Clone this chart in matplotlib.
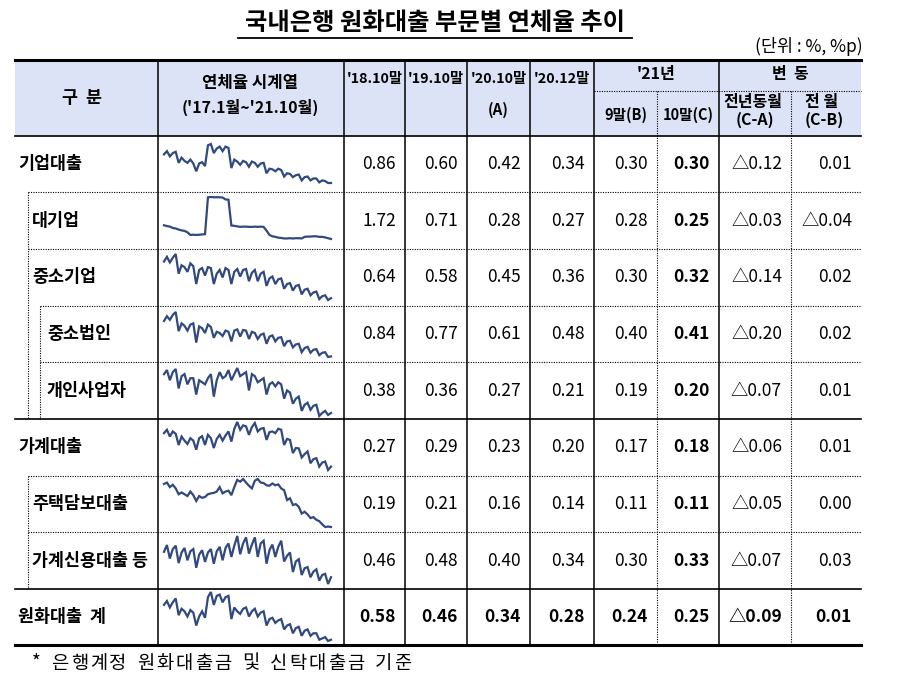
import matplotlib
matplotlib.use('Agg')
import matplotlib.pyplot as plt
from matplotlib.patches import Rectangle

plt.rcParams['font.family'] = ['Noto Sans CJK KR', 'DejaVu Sans']

# ---------------- data ----------------
title = '국내은행 원화대출 부문별 연체율 추이'
unit = '(단위 : %, %p)'
footnote = '* 은행계정 원화대출금 및 신탁대출금 기준'

row_labels = ['기업대출', '대기업', '중소기업', '중소법인', '개인사업자',
              '가계대출', '주택담보대출', '가계신용대출 등', '원화대출 계']
row_levels = [0, 1, 1, 2, 2, 0, 1, 1, 0]

col_18_10 = ['0.86', '1.72', '0.64', '0.84', '0.38', '0.27', '0.19', '0.46', '0.58']
col_19_10 = ['0.60', '0.71', '0.58', '0.77', '0.36', '0.29', '0.21', '0.48', '0.46']
col_20_10 = ['0.42', '0.28', '0.45', '0.61', '0.27', '0.23', '0.16', '0.40', '0.34']
col_20_12 = ['0.34', '0.27', '0.36', '0.48', '0.21', '0.20', '0.14', '0.34', '0.28']
col_21_09 = ['0.30', '0.28', '0.30', '0.40', '0.19', '0.17', '0.11', '0.30', '0.24']
col_21_10 = ['0.30', '0.25', '0.32', '0.41', '0.20', '0.18', '0.11', '0.33', '0.25']
col_yoy   = ['△0.12', '△0.03', '△0.14', '△0.20', '△0.07', '△0.06', '△0.05', '△0.07', '△0.09']
col_mom   = ['0.01', '△0.04', '0.02', '0.02', '0.01', '0.01', '0.00', '0.03', '0.01']

# monthly delinquency rate, 2017.1 ~ 2021.10 (58 months)
s_corp = [0.74, 0.79, 0.71, 0.76, 0.78, 0.61, 0.69, 0.64, 0.61, 0.66, 0.60, 0.48,
          0.60, 0.62, 0.56, 0.88, 0.90, 0.76, 0.83, 0.86, 0.79, 0.86, 0.84, 0.53,
          0.66, 0.63, 0.58, 0.64, 0.62, 0.55, 0.63, 0.61, 0.55, 0.60, 0.61, 0.45,
          0.52, 0.51, 0.48, 0.52, 0.50, 0.40, 0.45, 0.44, 0.39, 0.42, 0.43, 0.34,
          0.39, 0.40, 0.34, 0.37, 0.37, 0.31, 0.34, 0.33, 0.30, 0.30]
s_large = [0.76, 0.73, 0.71, 0.66, 0.64, 0.60, 0.57, 0.55, 0.50, 0.40, 0.41, 0.40,
           0.41, 0.42, 0.43, 1.80, 1.81, 1.80, 1.80, 1.80, 1.79, 1.72, 1.71, 0.75,
           0.74, 0.72, 0.70, 0.71, 0.71, 0.70, 0.70, 0.71, 0.70, 0.71, 0.70, 0.56,
           0.40, 0.35, 0.33, 0.30, 0.29, 0.27, 0.27, 0.28, 0.27, 0.28, 0.28, 0.27,
           0.33, 0.34, 0.34, 0.35, 0.35, 0.33, 0.33, 0.31, 0.28, 0.25]
s_sme = [0.71, 0.76, 0.70, 0.75, 0.79, 0.58, 0.67, 0.65, 0.60, 0.69, 0.66, 0.47,
         0.62, 0.64, 0.56, 0.65, 0.64, 0.47, 0.58, 0.62, 0.54, 0.64, 0.62, 0.47,
         0.60, 0.63, 0.55, 0.62, 0.63, 0.50, 0.59, 0.62, 0.50, 0.58, 0.60, 0.45,
         0.53, 0.55, 0.47, 0.52, 0.53, 0.42, 0.47, 0.48, 0.40, 0.45, 0.46, 0.36,
         0.41, 0.42, 0.35, 0.38, 0.39, 0.31, 0.34, 0.35, 0.30, 0.32]
s_sme_corp = [1.00, 1.08, 1.02, 1.10, 1.15, 0.83, 0.96, 0.92, 0.84, 0.94, 0.96, 0.64,
              0.91, 0.88, 0.80, 0.94, 0.90, 0.72, 0.82, 0.80, 0.75, 0.84, 0.82, 0.66,
              0.84, 0.86, 0.74, 0.85, 0.84, 0.70, 0.82, 0.80, 0.70, 0.77, 0.79, 0.62,
              0.74, 0.76, 0.66, 0.72, 0.73, 0.58, 0.66, 0.67, 0.56, 0.61, 0.62, 0.48,
              0.55, 0.57, 0.47, 0.52, 0.53, 0.43, 0.47, 0.48, 0.40, 0.41]
s_self = [0.39, 0.41, 0.36, 0.40, 0.415, 0.32, 0.38, 0.39, 0.34, 0.37, 0.37, 0.29,
          0.36, 0.35, 0.34, 0.37, 0.39, 0.28, 0.36, 0.40, 0.37, 0.38, 0.41, 0.36,
          0.39, 0.42, 0.38, 0.39, 0.40, 0.31, 0.39, 0.38, 0.35, 0.36, 0.37, 0.29,
          0.34, 0.35, 0.33, 0.35, 0.34, 0.27, 0.31, 0.30, 0.245, 0.27, 0.28, 0.21,
          0.24, 0.25, 0.215, 0.235, 0.24, 0.185, 0.20, 0.21, 0.19, 0.20]
s_house = [0.277, 0.287, 0.267, 0.282, 0.275, 0.242, 0.267, 0.255, 0.245, 0.262, 0.255, 0.228,
           0.262, 0.268, 0.242, 0.272, 0.262, 0.233, 0.260, 0.272, 0.255, 0.270, 0.282, 0.252,
           0.290, 0.310, 0.287, 0.300, 0.297, 0.272, 0.295, 0.307, 0.282, 0.290, 0.292, 0.257,
           0.280, 0.282, 0.277, 0.290, 0.287, 0.242, 0.260, 0.257, 0.218, 0.233, 0.232, 0.205,
           0.215, 0.223, 0.188, 0.200, 0.203, 0.178, 0.190, 0.193, 0.168, 0.178]
s_mortgage = [0.207, 0.210, 0.200, 0.205, 0.197, 0.184, 0.188, 0.184, 0.180, 0.190, 0.182, 0.169,
              0.180, 0.176, 0.178, 0.184, 0.186, 0.187, 0.190, 0.200, 0.186, 0.190, 0.192, 0.182,
              0.200, 0.216, 0.212, 0.218, 0.210, 0.203, 0.197, 0.214, 0.218, 0.210, 0.209, 0.204,
              0.203, 0.208, 0.204, 0.206, 0.197, 0.193, 0.171, 0.175, 0.160, 0.162, 0.156, 0.141,
              0.145, 0.139, 0.131, 0.133, 0.127, 0.124, 0.117, 0.111, 0.112, 0.111]
s_credit = [0.443, 0.473, 0.413, 0.455, 0.470, 0.393, 0.440, 0.460, 0.405, 0.445, 0.455, 0.372,
            0.430, 0.450, 0.398, 0.440, 0.455, 0.390, 0.445, 0.465, 0.405, 0.460, 0.480, 0.420,
            0.470, 0.513, 0.432, 0.480, 0.507, 0.435, 0.475, 0.507, 0.420, 0.480, 0.492, 0.390,
            0.450, 0.475, 0.420, 0.465, 0.492, 0.400, 0.425, 0.440, 0.353, 0.400, 0.410, 0.340,
            0.370, 0.375, 0.330, 0.355, 0.365, 0.315, 0.340, 0.345, 0.300, 0.330]
s_total = [0.52, 0.55, 0.50, 0.54, 0.57, 0.44, 0.49, 0.47, 0.43, 0.48, 0.46, 0.36,
           0.43, 0.47, 0.42, 0.58, 0.62, 0.52, 0.59, 0.60, 0.54, 0.58, 0.59, 0.41,
           0.50, 0.47, 0.45, 0.49, 0.50, 0.43, 0.47, 0.49, 0.43, 0.46, 0.47, 0.36,
           0.41, 0.42, 0.38, 0.40, 0.41, 0.33, 0.36, 0.37, 0.30, 0.34, 0.35, 0.28,
           0.32, 0.33, 0.28, 0.30, 0.30, 0.25, 0.26, 0.27, 0.24, 0.25]
series = [s_corp, s_large, s_sme, s_sme_corp, s_self, s_house, s_mortgage, s_credit, s_total]

# ---------------- layout ----------------
W, H = 909, 681
fig = plt.figure(figsize=(W / 100, H / 100), dpi=100)
ax = fig.add_axes([0, 0, 1, 1])
ax.set_xlim(0, W)
ax.set_ylim(H, 0)
ax.axis('off')

L, R = 15, 861
T, HB = 60, 136
row_edges = [136, 192, 249, 306, 362, 419, 476, 532, 589, 645]
col_x = [158, 344, 405, 467, 530, 594, 657, 719, 791, 861]
indent_x = {0: 15, 1: 28, 2: 40}
text_x = {0: 18, 1: 32, 2: 47}
spark_pad = [(8, 9), (5, 10), (5, 6), (6, 5), (6, 3), (3, 6), (3, 5), (4, 5), (3, 4)]
navy = '#31497f'
dot = (0, (1, 1.2))

# header fill
ax.add_patch(Rectangle((L, T), R - L, HB - T, facecolor='#dde3f6', edgecolor='none', zorder=0))

# title
ax.text(435, 23, title, ha='center', va='center', fontsize=17.5, fontweight='bold')
ax.plot([238, 632], [37.5, 37.5], color='black', lw=1.3)
ax.text(R + 2, 47, unit, ha='right', va='center', fontsize=12.5)

# horizontal rules
ax.plot([L, R], [T, T], color='black', lw=2.2)
ax.plot([L, R], [HB, HB], color='black', lw=1.2)
ax.plot([L, R], [419, 419], color='black', lw=1.2)
ax.plot([L, R], [589, 589], color='black', lw=1.2)
ax.plot([L, R], [645, 645], color='black', lw=2.2)
ax.plot([594, R], [91, 91], color='black', lw=0.8, ls=dot)
for i in range(1, 9):
    y = row_edges[i]
    if y in (419, 589):
        continue
    lvl = row_levels[i]
    ax.plot([indent_x[lvl], R], [y, y], color='black', lw=0.8, ls=dot)

# vertical rules
for x in [158, 344, 405, 467, 530, 594, 719]:
    ax.plot([x, x], [T, 645], color='black', lw=1.1)
for x in [657, 791]:
    ax.plot([x, x], [91, 645], color='black', lw=0.8, ls=dot)
ax.plot([28, 28], [192, 419], color='black', lw=0.8, ls=dot)
ax.plot([40, 40], [306, 419], color='black', lw=0.8, ls=dot)
ax.plot([28, 28], [476, 589], color='black', lw=0.8, ls=dot)

# header texts
hfs = 11.5
cfs = 10.3
hdr = dict(ha='center', va='center', fontweight='bold')
ax.text(82, 98, '구  분', fontsize=12.5, **hdr)
ax.text(250, 83, '연체율 시계열', fontsize=12, **hdr)
ax.text(250, 107, "('17.1월~'21.10월)", fontsize=hfs, **hdr)
ax.text(374.5, 79, "'18.10말", fontsize=cfs, **hdr)
ax.text(436, 79, "'19.10말", fontsize=cfs, **hdr)
ax.text(498.5, 79, "'20.10말", fontsize=cfs, **hdr)
ax.text(498.5, 110, '(A)', fontsize=10.8, **hdr)
ax.text(562, 79, "'20.12말", fontsize=cfs, **hdr)
ax.text(656, 74, "'21년", fontsize=hfs, **hdr)
ax.text(790, 74, '변  동', fontsize=hfs, **hdr)
ax.text(626, 115, '9말(B)', fontsize=10.5, **hdr)
ax.text(688, 115, '10말(C)', fontsize=10.5, **hdr)
ax.text(753, 102, '전년동월', fontsize=hfs, **hdr)
ax.text(755, 120, '(C-A)', fontsize=hfs, **hdr)
ax.text(822, 102, '전 월', fontsize=hfs, **hdr)
ax.text(824, 120, '(C-B)', fontsize=hfs, **hdr)

# body
columns = [col_18_10, col_19_10, col_20_10, col_20_12, col_21_09, col_21_10, col_yoy, col_mom]
nfs = 12.5
for r in range(9):
    y0, y1 = row_edges[r], row_edges[r + 1]
    yc = (y0 + y1) / 2
    last = (r == 8)
    ax.text(text_x[row_levels[r]], yc, row_labels[r].replace(' 계', '  계'),
            ha='left', va='center', fontsize=12.5, fontweight='bold')
    for c, col in enumerate(columns):
        bold = last or c == 5
        ax.text(col_x[c + 2] - 9, yc, col[r], ha='right', va='center',
                fontsize=nfs, fontweight='bold' if bold else 'normal')
    # sparkline
    pt, pb = spark_pad[r]
    sx0, sx1 = 164, 331
    sy0, sy1 = y0 + pt, y1 - pb
    sax = fig.add_axes([sx0 / W, 1 - sy1 / H, (sx1 - sx0) / W, (sy1 - sy0) / H])
    data = series[r]
    sax.plot(range(len(data)), data, color=navy, lw=1.6, clip_on=False,
             solid_joinstyle='miter')
    sax.set_xlim(0, len(data) - 1)
    sax.set_ylim(min(data), max(data))
    sax.axis('off')

# footnote: wide letter-spaced, one glyph at a time
fx = 32
for ch in footnote:
    if ch == ' ':
        fx += 8.5
        continue
    ax.text(fx, 663, ch, ha='left', va='center', fontsize=13.5)
    fx += 11 if ch == '*' else 19.3

fig.savefig('out.png', dpi=100)
